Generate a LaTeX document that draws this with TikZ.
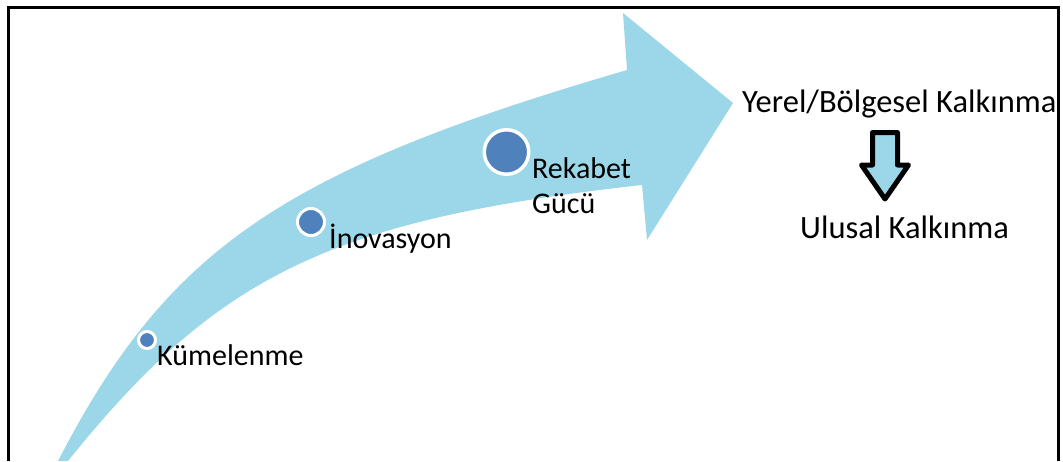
\documentclass[tikz,border=0pt]{standalone}
\usepackage{fontspec}
\setmainfont{Carlito}
\definecolor{arrowblue}{RGB}{155,215,232}
\definecolor{dotblue}{RGB}{79,129,189}
\tikzset{
  dot/.style={circle, fill=dotblue, draw=white, inner sep=0pt},
  lbl/.style={anchor=base west, inner sep=0pt, font=\fontsize{30}{35}\selectfont, text=black},
  biglbl/.style={anchor=base west, inner sep=0pt, font=\fontsize{32.5}{38}\selectfont, text=black},
  frameline/.style={line width=3pt, black},
}
\begin{document}
\begin{tikzpicture}[x=1pt,y=-1pt]
\useasboundingbox (0,0) rectangle (1063,461);

% curved process arrow
\fill[arrowblue]
  (58,461) .. controls (167.6,249) and (281.4,170.8) .. (627,70)
  -- (623,13) -- (733,103) -- (647,240) -- (642,185)
  .. controls (332,219.4) and (217.6,274.6) .. (68,461) -- cycle;

% stage markers
\node[dot, minimum size=17pt, line width=3pt] (d1) at (147,340) {};
\node[dot, minimum size=27pt, line width=3pt] (d2) at (311,222) {};
\node[dot, minimum size=44.5pt, line width=3.5pt] (d3) at (506.5,152) {};

% stage labels
\node[lbl] (t1) at (157,365) {Kümelenme};
\node[lbl] (t2) at (329,248) {İnovasyon};
\node[lbl] (t3) at (532,178) {Rekabet};
\node[lbl] (t4) at (532,213) {Gücü};

% outcome labels
\node[biglbl] (y1) at (742,112) {Yerel/Bölgesel Kalkınma};
\node[biglbl] (y2) at (800,238) {Ulusal Kalkınma};

% block arrow between the outcomes
\draw[line width=5pt, line join=round, fill=arrowblue]
  (872.5,132.5) -- (897.5,132.5) -- (897.5,165) -- (908.5,165)
  -- (885,199) -- (861.5,165) -- (872.5,165) -- cycle;

% frame
\draw[frameline] (8,461) -- (8,7) -- (1058.5,7) -- (1058.5,461);
\end{tikzpicture}
\end{document}
